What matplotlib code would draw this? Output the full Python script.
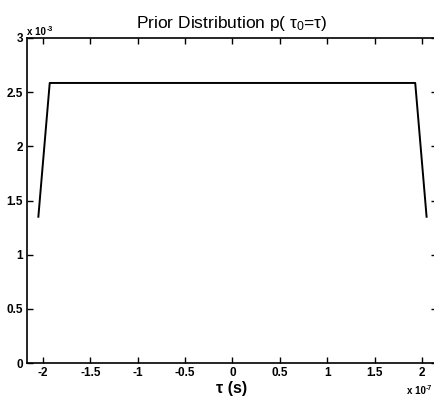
import matplotlib
matplotlib.use('Agg')
import matplotlib.pyplot as plt

plt.rcParams['font.family'] = ['Liberation Sans', 'DejaVu Sans']
plt.rcParams['mathtext.fontset'] = 'custom'
plt.rcParams['mathtext.rm'] = 'Liberation Sans'
plt.rcParams['mathtext.it'] = 'Liberation Sans'

# tau in units of 1e-7 s, prior in units of 1e-3
tau = [-2.05, -1.93, 1.93, 2.05]
prior = [1.35, 2.585, 2.585, 1.35]
xticks = [-2, -1.5, -1, -0.5, 0, 0.5, 1, 1.5, 2]
xticklabels = ['-2', '-1.5', '-1', '-0.5', '0', '0.5', '1', '1.5', '2']
yticks = [0, 0.5, 1, 1.5, 2, 2.5, 3]
yticklabels = ['0', '0.5', '1', '1.5', '2', '2.5', '3']

fig = plt.figure(figsize=(4.35, 3.98), dpi=100)
ax = fig.add_axes([27 / 435, 35 / 398, 410 / 435, 325 / 398])

ax.plot(tau, prior, color='black', linewidth=1.4)

ax.set_xlim(-2.17, 2.16)
ax.set_ylim(0, 3)
ax.set_xticks(xticks)
ax.set_xticklabels(xticklabels, fontsize=8.5, fontweight='bold')
ax.set_yticks(yticks)
ax.set_yticklabels(yticklabels, fontsize=8.5, fontweight='bold')
ax.tick_params(direction='in', length=4, width=1, top=True, right=True, pad=3)
for s in ax.spines.values():
    s.set_linewidth(1.2)

ax.set_title(r'Prior Distribution p( $\mathrm{τ_{0}}$=τ)', fontsize=12.5, pad=7)
ax.set_xlabel('τ (s)', fontsize=11.5, fontweight='bold', labelpad=1)

# exponent labels
fig.text(27 / 435, 1 - 35 / 398, 'x 10', fontsize=7, fontweight='bold')
fig.text(47 / 435, 1 - 31 / 398, '-3', fontsize=5, fontweight='bold')
fig.text(407 / 435, 1 - 394 / 398, 'x 10', fontsize=7, fontweight='bold')
fig.text(426 / 435, 1 - 390 / 398, '-7', fontsize=5, fontweight='bold')

fig.savefig('out.png', dpi=100)
